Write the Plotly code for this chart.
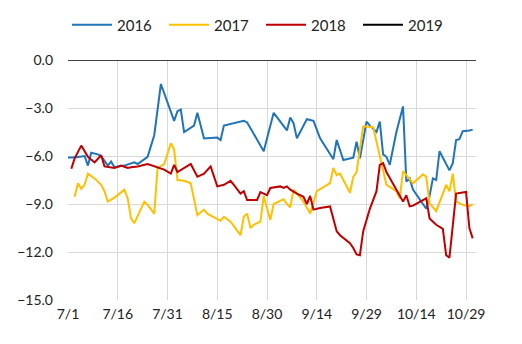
import plotly.graph_objects as go

# Daily spread readings, July through October, overlaid by calendar day
YEAR = "2000"

dates_2016 = ["07-01", "07-03", "07-06", "07-07", "07-08", "07-10", "07-11", "07-13", "07-14", "07-15",
              "07-18", "07-21", "07-22", "07-25", "07-27", "07-29", "08-02", "08-03", "08-04", "08-05",
              "08-08", "08-09", "08-10", "08-11", "08-15", "08-16", "08-17", "08-23", "08-24", "08-29",
              "09-01", "09-05", "09-06", "09-07", "09-08", "09-11", "09-13", "09-15", "09-19", "09-20",
              "09-22", "09-25", "09-26", "09-27", "09-29", "09-30", "10-02", "10-03", "10-04", "10-05",
              "10-06", "10-08", "10-10", "10-11", "10-12", "10-13", "10-17", "10-18", "10-19", "10-20",
              "10-21", "10-24", "10-25", "10-26", "10-27", "10-28", "10-30", "10-31"]
values_2016 = [-6.1, -6.1, -6.0, -6.6, -5.8, -5.9, -6.0, -6.6, -6.35, -6.7,
               -6.6, -6.4, -6.5, -6.05, -4.7, -1.5, -3.8, -3.2, -3.1, -4.5,
               -4.1, -3.3, -4.1, -4.9, -4.85, -5.0, -4.1, -3.8, -3.9, -5.7,
               -3.3, -4.4, -3.6, -3.95, -4.9, -3.7, -3.8, -4.9, -6.2, -5.0,
               -6.25, -6.1, -5.1, -6.15, -3.85, -4.1, -4.5, -3.85, -5.9, -6.05,
               -6.55, -4.5, -2.9, -7.6, -7.4, -8.1, -9.3, -8.5, -7.4, -7.5,
               -5.7, -6.9, -6.45, -5.0, -4.95, -4.45, -4.4, -4.35]

dates_2017 = ["07-03", "07-04", "07-05", "07-06", "07-07", "07-09", "07-11", "07-12", "07-13", "07-15",
              "07-18", "07-19", "07-20", "07-21", "07-24", "07-25", "07-27", "07-28", "07-30", "08-01",
              "08-02", "08-03", "08-05", "08-07", "08-09", "08-11", "08-12", "08-15", "08-16", "08-17",
              "08-19", "08-22", "08-23", "08-24", "08-25", "08-26", "08-28", "08-29", "08-31", "09-01",
              "09-04", "09-05", "09-06", "09-07", "09-08", "09-10", "09-12", "09-14", "09-18", "09-19",
              "09-20", "09-21", "09-24", "09-25", "09-26", "09-28", "09-29", "10-01", "10-02", "10-04",
              "10-05", "10-08", "10-09", "10-10", "10-11", "10-13", "10-16", "10-17", "10-18", "10-20",
              "10-23", "10-24", "10-25", "10-26", "10-28", "10-30", "10-31"]
values_2017 = [-8.55, -7.7, -8.05, -7.8, -7.1, -7.4, -7.8, -8.2, -8.85, -8.6,
               -8.1, -8.65, -9.9, -10.2, -8.85, -9.05, -9.6, -6.75, -6.5, -5.2,
               -5.6, -7.5, -7.55, -7.7, -9.7, -9.35, -9.6, -9.95, -10.05, -9.8,
               -10.1, -10.95, -9.8, -9.6, -10.5, -10.3, -10.1, -8.5, -10.0, -9.0,
               -8.7, -9.0, -9.2, -8.1, -8.35, -8.85, -9.6, -8.2, -7.7, -6.75,
               -7.2, -7.1, -8.3, -7.3, -7.0, -4.15, -4.15, -4.2, -5.1, -7.0,
               -7.8, -8.2, -8.65, -6.95, -7.2, -7.7, -7.15, -7.3, -8.95, -9.45,
               -7.8, -8.2, -7.1, -8.85, -9.05, -9.15, -9.0]

dates_2018 = ["07-02", "07-03", "07-05", "07-07", "07-09", "07-11", "07-12", "07-15", "07-17", "07-19",
              "07-20", "07-22", "07-25", "07-27", "07-30", "08-01", "08-02", "08-03", "08-07", "08-09",
              "08-11", "08-13", "08-14", "08-15", "08-17", "08-19", "08-20", "08-22", "08-23", "08-24",
              "08-27", "08-28", "08-30", "08-31", "09-03", "09-04", "09-05", "09-06", "09-08", "09-10",
              "09-11", "09-12", "09-13", "09-15", "09-18", "09-20", "09-21", "09-24", "09-25", "09-26",
              "09-27", "09-28", "09-30", "10-02", "10-03", "10-04", "10-05", "10-08", "10-10", "10-11",
              "10-12", "10-13", "10-17", "10-18", "10-20", "10-22", "10-23", "10-24", "10-26", "10-29",
              "10-30", "10-31"]
values_2018 = [-6.8, -6.15, -5.35, -6.05, -6.4, -5.95, -6.65, -6.75, -6.6, -6.75,
               -6.7, -6.65, -6.5, -6.65, -6.85, -7.1, -6.55, -7.0, -6.5, -7.3,
               -7.1, -6.65, -7.3, -7.9, -7.8, -7.55, -7.8, -8.35, -8.2, -8.75,
               -8.75, -8.25, -8.45, -8.0, -7.9, -8.0, -7.9, -8.1, -8.35, -8.55,
               -9.0, -8.5, -9.35, -9.25, -9.15, -10.7, -10.95, -11.45, -11.75, -12.15,
               -12.2, -10.7, -9.3, -8.2, -6.55, -6.45, -7.0, -8.1, -8.85, -8.45,
               -9.15, -9.1, -8.65, -9.9, -10.3, -10.55, -12.2, -12.35, -8.35, -8.25,
               -10.5, -11.15]

# 2019 has no readings in this window yet; kept for the legend
dates_2019 = []
values_2019 = []

series = [
    ("2016", dates_2016, values_2016, "#1F74BA"),
    ("2017", dates_2017, values_2017, "#FFC000"),
    ("2018", dates_2018, values_2018, "#C00000"),
    ("2019", dates_2019, values_2019, "#000000"),
]

y_ticks = [0, -3, -6, -9, -12, -15]

FONT = "Lato"
fig = go.Figure()
for name, d, v, color in series:
    xs = [f"{YEAR}-{md}" for md in d] or [None]
    ys = list(v) or [None]
    fig.add_trace(go.Scatter(x=xs, y=ys, mode="lines", name=name,
                             line=dict(color=color, width=2)))

fig.add_shape(type="line", xref="paper", yref="y", x0=0, x1=1, y0=0, y1=0,
              line=dict(color="#000000", width=1.5), layer="above")

fig.update_layout(
    width=522, height=344,
    margin=dict(l=68, r=46, t=60, b=44, autoexpand=False),
    paper_bgcolor="white", plot_bgcolor="white",
    font=dict(family=FONT, size=14, color="#222222"),
    showlegend=True,
    legend=dict(orientation="h", x=0.5, xanchor="center", y=0.975, yanchor="top",
                yref="container", xref="container", font=dict(size=15, color="#222222"),
                entrywidth=42, itemwidth=40, traceorder="normal"),
    xaxis=dict(type="date", range=[f"{YEAR}-07-01", f"{YEAR}-11-01"],
               tick0=f"{YEAR}-07-01", dtick=15 * 86400000, tickformat="%-m/%-d",
               showgrid=True, gridcolor="#D9D9D9", gridwidth=1,
               showline=False, zeroline=False, ticks="", ticklabelstandoff=4,
               tickfont=dict(size=14, color="#222222")),
    yaxis=dict(range=[-15, 0], tickvals=y_ticks, tickformat=".1f",
               showgrid=True, gridcolor="#D9D9D9", gridwidth=1,
               showline=False, zeroline=False, ticks="", ticklabelstandoff=14,
               tickfont=dict(size=14, color="#222222")),
)

fig.write_html("out.html")
